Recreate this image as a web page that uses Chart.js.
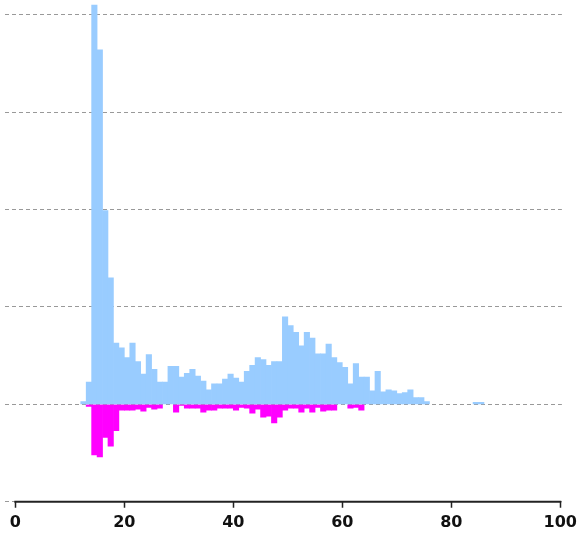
<!DOCTYPE html>
<html>
<head>
<meta charset="utf-8">
<script src="https://cdn.jsdelivr.net/npm/chart.js@4/dist/chart.umd.min.js"></script>
<style>
  html, body { margin: 0; padding: 0; background: #fff; }
</style>
</head>
<body>
<canvas id="myChart" width="582" height="541"></canvas>
<script>
// age bins (each bar covers [age, age + 1])
const ages = [
  12, 13, 14, 15, 16, 17, 18, 19, 20, 21, 22, 23, 24, 25, 26, 27, 28, 29,
  30, 31, 32, 33, 34, 35, 36, 37, 38, 39, 40, 41, 42, 43, 44, 45, 46, 47,
  48, 49, 50, 51, 52, 53, 54, 55, 56, 57, 58, 59, 60, 61, 62, 63, 64, 65,
  66, 67, 68, 69, 70, 71, 72, 73, 74, 75, 76, 77, 78, 79, 80, 81, 82, 83, 84,
  85,
];
// light blue bars above zero
const upper = [
  3, 23, 410, 364, 199, 130, 63, 58, 48, 63, 44, 31, 51, 36, 23, 23, 39, 39,
  28, 32, 36, 29, 24, 15, 21, 21, 26, 31, 27, 23, 34, 40, 48, 46, 40, 44,
  44, 90, 81, 74, 60, 74, 68, 52, 52, 62, 48, 43, 38, 21, 42, 28, 28, 14,
  34, 13, 15, 14, 11, 12, 15, 7, 7, 3, 0, 0, 0, 0, 0, 0, 0, 0, 2,
  2,
];
// magenta bars below zero
const lower = [
  0, -2, -52, -54, -34, -43, -27, -6, -6, -6, -5, -7, -3, -5, -4, 0, 0, -8,
  -1, -4, -4, -4, -8, -6, -6, -4, -4, -4, -6, -3, -4, -9, -5, -13, -12, -19,
  -13, -6, -4, -4, -8, -4, -8, -3, -7, -6, -6, 0, 0, -4, -3, -6, 0, 0,
  0, 0, 0, 0, 0, 0, 0, 0, 0, 0, 0, 0, 0, 0, 0, 0, 0, 0, 0,
  0,
];
const xTicks = [0, 20, 40, 60, 80, 100];
const gridLevels = [-100, 0, 100, 200, 300, 400];

function toPoints(vals) {
  // empty bins get no bar at all
  return ages.map((a, i) => ({ x: a + 0.5, y: vals[i] === 0 ? null : vals[i] }));
}

// axis rule from 0 to 100 with its tick marks, like the original
const axisLine = {
  id: "axisLine",
  afterDraw(chart) {
    const ctx = chart.ctx;
    const xs = chart.scales.x;
    const y0 = chart.chartArea.bottom;
    ctx.save();
    ctx.strokeStyle = "#222";
    ctx.lineWidth = 2;
    ctx.beginPath();
    ctx.moveTo(xs.getPixelForValue(0) - 1, y0);
    ctx.lineTo(xs.getPixelForValue(100) + 1, y0);
    ctx.stroke();
    ctx.lineWidth = 1.5;
    ctx.beginPath();
    for (const v of xTicks) {
      const px = Math.round(xs.getPixelForValue(v)) + 0.5;
      ctx.moveTo(px, y0);
      ctx.lineTo(px, y0 + 6);
    }
    ctx.stroke();
    ctx.restore();
  },
};

new Chart(document.getElementById("myChart"), {
  type: "bar",
  data: {
    datasets: [
      {
        data: toPoints(upper),
        backgroundColor: "#99ccff",
        borderWidth: 0,
        grouped: false,
        barPercentage: 1,
        categoryPercentage: 1,
      },
      {
        data: toPoints(lower),
        backgroundColor: "#ff00ff",
        borderWidth: 0,
        grouped: false,
        barPercentage: 1,
        categoryPercentage: 1,
      },
    ],
  },
  options: {
    responsive: false,
    devicePixelRatio: 1,
    animation: false,
    layout: { padding: { left: 5, right: 16, top: 4, bottom: 4 } },
    plugins: {
      legend: { display: false },
      tooltip: { enabled: false },
    },
    scales: {
      x: {
        type: "linear",
        min: -1.9,
        max: 100.3,
        offset: false,
        afterBuildTicks: (s) => {
          s.ticks = xTicks.map((v) => ({ value: v }));
        },
        grid: {
          offset: false,
          drawOnChartArea: false,
          drawTicks: true,
          tickLength: 6,
          color: "rgba(0,0,0,0)",
        },
        border: { display: false },
        ticks: {
          autoSkip: false,
          maxRotation: 0,
          padding: 5,
          color: "#111",
          font: { family: "DejaVu Sans", weight: "bold", size: 16 },
        },
      },
      y: {
        min: -100,
        max: 411,
        afterBuildTicks: (s) => {
          s.ticks = gridLevels.map((v) => ({ value: v }));
        },
        ticks: { display: false },
        grid: { color: "#999", lineWidth: 1, drawTicks: false, tickLength: 0 },
        border: { display: false, dash: [4, 3] },
      },
    },
  },
  plugins: [axisLine],
});
</script>
</body>
</html>
